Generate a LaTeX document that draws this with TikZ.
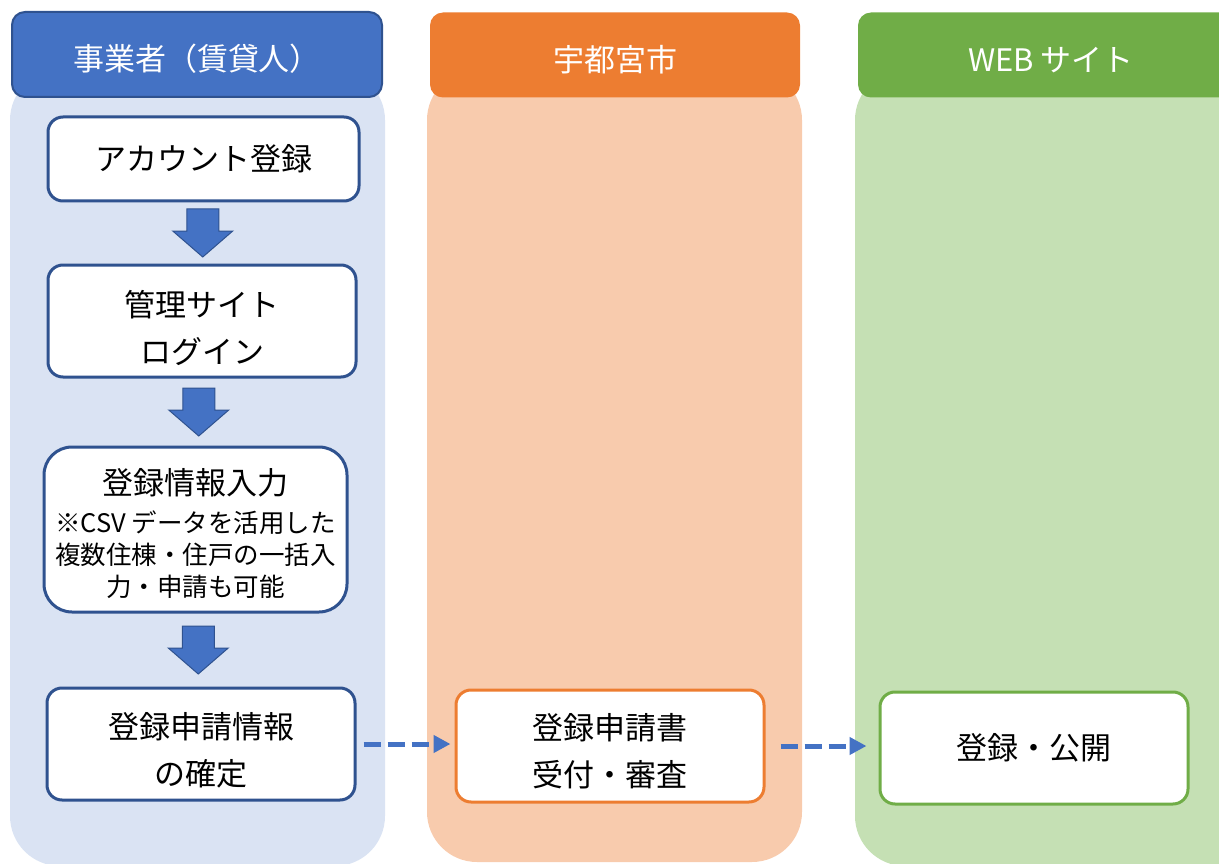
\documentclass[tikz,border=0pt]{standalone}
\usepackage{fontspec}
\setmainfont{Noto Sans CJK JP}
\usetikzlibrary{arrows.meta,calc}
\definecolor{bluem}{HTML}{4472C4}
\definecolor{bluedk}{HTML}{2F528F}
\definecolor{bluebg}{HTML}{DAE3F3}
\definecolor{orgm}{HTML}{ED7D31}
\definecolor{orgbg}{HTML}{F8CBAD}
\definecolor{grnm}{HTML}{70AD47}
\definecolor{grnbg}{HTML}{C5E0B4}
\newcommand\tstrut[1]{\rule{0pt}{#1}}
\begin{document}
\begin{tikzpicture}[x=1pt,y=-1pt,
  hdr/.style={rounded corners=13pt, minimum height=85pt, text=white, font=\fontsize{31}{47}\selectfont, inner sep=0pt, text height=36pt, text depth=3pt},
  stepbox/.style={draw, line width=3pt, fill=white, rounded corners=15pt, align=center, font=\fontsize{31}{47}\selectfont, inner sep=0pt, text=black},
  blk/.style={fill=bluem, draw=bluedk, line width=1pt},
  dasharr/.style={draw=bluem, line width=5pt, dash pattern=on 17pt off 7pt, -{Triangle[length=17pt,width=17pt]}}
]
\useasboundingbox (0,0) rectangle (1219,864);
\begin{scope}
\clip (0,0) rectangle (1219,864);
% lanes
\fill[bluebg, rounded corners=50pt] (10,70) rectangle (385,866);
\fill[orgbg, rounded corners=50pt] (427,70) rectangle (802,862);
\fill[grnbg, rounded corners=50pt] (855,70) rectangle (1260,866);
% headers
\node[hdr, fill=bluem, draw=bluedk, line width=2pt, minimum width=370pt] (h1) at (197,54.5) {事業者（賃貸人）};
\node[hdr, fill=orgm, minimum width=370pt] (h2) at (615,55) {宇都宮市};
\node[hdr, fill=grnm, minimum width=386pt] (h3) at (1051,55) {WEB サイト};
\end{scope}
% boxes lane 1
\node[stepbox, draw=bluedk, minimum width=311pt, minimum height=84pt] (b1) at (203.5,159) {アカウント登録};
\node[stepbox, draw=bluedk, minimum width=308pt, minimum height=112pt] (b2) at (202,321) {\tstrut{40pt}管理サイト\\ログイン};
\node[stepbox, draw=bluedk, rounded corners=28pt, minimum width=303pt, minimum height=165pt,
  font=\fontsize{25.5}{32}\selectfont] (b3) at (195.5,529.5)
  {{\fontsize{31}{34}\selectfont\tstrut{35pt}登録情報入力}\\[6pt]※CSV データを活用した\\複数住棟・住戸の一括入\\力・申請も可能};
\node[stepbox, draw=bluedk, minimum width=308pt, minimum height=112pt] (b4) at (201,744) {\tstrut{39pt}登録申請情報\\の確定};
% other lanes
\node[stepbox, draw=orgm, minimum width=308pt, minimum height=112pt] (o1) at (610,746) {\tstrut{37pt}登録申請書\\受付・審査};
\node[stepbox, draw=grnm, minimum width=308pt, minimum height=112pt] (g1) at (1034,748) {登録・公開};
% block arrows
\path (b1.south) -- coordinate[pos=.5] (m1) (b2.north);
\path (b2.south) -- coordinate[pos=.5] (m2) (b3.north);
\path (b3.south) -- coordinate[pos=.5] (m3) (b4.north);
\foreach \m in {m1,m2,m3}{
  \draw[blk] ($(\m)+(-16,-24)$) -- ++(32,0) -- ++(0,22) -- ++(14,0) -- ($(\m)+(0,24)$) -- ($(\m)+(-30,-2)$) -- ++(14,0) -- cycle;
}
% dashed arrows
\draw[dasharr, shorten <=7pt, shorten >=4pt] (b4.east) -- (b4.east -| o1.west);
\draw[dasharr, shorten <=15pt, shorten >=12pt] (o1.east) -- (o1.east -| g1.west);
\end{tikzpicture}
\end{document}
